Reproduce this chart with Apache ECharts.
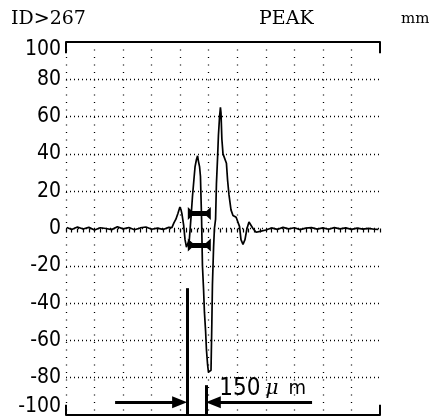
<!DOCTYPE html>
<html>
<head>
<meta charset="utf-8">
<script src="https://cdn.jsdelivr.net/npm/echarts@6/dist/echarts.min.js"></script>
<style>
html,body{margin:0;padding:0;background:#fff;}
#c{width:429px;height:417px;}
</style>
</head>
<body>
<div id="c"></div>
<script>
// ---- data ----
const headerLeft = 'ID>267';
const headerMid = 'PEAK';
const headerUnit = 'mm';
const yTickValues = [-100, -80, -60, -40, -20, 0, 20, 40, 60, 80, 100];
const yTickLabels = ['-100', '-80', '-60', '-40', '-20', '0', '20', '40', '60', '80', '100'];
const scaleText = ['150', 'μ', 'm'];

// waveform (x in grid divisions*10, y in axis units)
const waveX = [0.3, 2, 4, 6, 8, 10, 12, 14, 16, 18, 20, 22, 24, 26, 28, 30, 32, 34, 36,
  36.4, 37.1, 37.8, 38.5, 39.2, 39.9, 40.3, 40.6, 41.2, 41.7, 42.2, 42.7, 43.2, 43.8, 44.3,
  44.8, 45.2, 45.7, 46.1, 46.4, 46.8, 47.1, 47.5, 47.8, 48.2, 48.5, 48.9, 49.2, 49.6, 49.9,
  50.4, 50.8, 51.1, 51.3, 51.7, 52.0, 52.4, 52.7, 53.1, 53.4, 53.8, 54.1, 54.3, 54.6, 55.0,
  55.7, 56.2, 56.6, 57.1, 57.8, 58.5, 59.6, 60.3, 60.8, 61.3, 62.0, 62.7, 63.4, 64.1, 64.8,
  65.5, 66.6, 68.0,
  70, 72, 74, 76, 78, 80, 82, 84, 86, 88, 90, 92, 94, 96, 98, 100, 102, 104, 106, 108, 109.4];
const waveY = [0.5, -0.5, 0.8, -0.3, 0.6, -0.8, 0.4, 0, -0.6, 0.9, -0.2, 0.5, -0.7, 0.3, 0.8, -0.4, 0.2, -0.5, 0.6,
  1, 0.5, 3, 5, 8, 11.5, 10, 8, 2, -6, -10, -11, -6, 6, 17,
  26, 33, 37, 39, 36, 33, 28, 5, -20, -33, -45, -55, -65, -73, -77,
  -78, -76, -50, -30, -10, 0, 5, 24, 38, 50, 60, 65, 62, 48, 40,
  39, 35, 26, 18, 10, 7, 6, 5.5, 1, -6, -8.5, -6, 0, 3.5, 3,
  0, -2, -1.5,
  -0.8, 0.3, -0.5, 0.6, -0.2, 0.4, -0.6, 0.2, 0.5, -0.3, 0.3, -0.4, 0.5, -0.2, 0.3, -0.5, 0.2, -0.3, 0.1, -0.4, -0.5];

// cursor markers (x range, y levels) and width annotation
const cursorFrom = 43.9, cursorTo = 49.5;
const cursorLevels = [8, -8.8];
const gateLeftX = 42.4, gateRightX = 49.0;
const gateLeftTop = -32, gateRightTop = -84;
const arrowY = -93.2;
const arrowLeftStart = 17.2, arrowRightEnd = 86.2;

const waveData = waveX.map((x, i) => [x, waveY[i]]);

const INK = '#000';
const NARROW = '"DejaVu Sans Condensed", "Liberation Sans Narrow", sans-serif';
const SERIF = '"DejaVu Serif", "Liberation Serif", serif';
const chart = echarts.init(document.getElementById('c'), null, {renderer: 'canvas'});

const tipPath = 'path://M0,0 L10,0 L5,10 Z';

const markLines = [];
cursorLevels.forEach(lv => {
  markLines.push([
    {coord: [cursorFrom, lv], symbol: tipPath, symbolSize: [13, 7], lineStyle: {width: 5}},
    {coord: [cursorTo, lv], symbol: tipPath, symbolSize: [13, 7]}
  ]);
});
// gate vertical lines
markLines.push([{coord: [gateLeftX, gateLeftTop], symbol: 'none', lineStyle: {width: 3}}, {coord: [gateLeftX, -100], symbol: 'none'}]);
markLines.push([{coord: [gateRightX, gateRightTop], symbol: 'none', lineStyle: {width: 3}}, {coord: [gateRightX, -100], symbol: 'none'}]);
// arrows
markLines.push([
  {coord: [arrowLeftStart, arrowY], symbol: 'none', lineStyle: {width: 3}},
  {coord: [gateLeftX - 2.6, arrowY], symbol: 'triangle', symbolSize: [12, 15]}
]);
markLines.push([
  {coord: [gateRightX + 2.6, arrowY], symbol: 'triangle', symbolSize: [12, 15], lineStyle: {width: 3},
    label: {show: true, position: 'insideMiddleTop', distance: 2,
      formatter: '{a|' + scaleText[0] + '}{b|' + scaleText[1] + '}{c|' + scaleText[2] + '}',
      rich: {
        a: {fontFamily: NARROW, fontSize: 24, color: INK},
        b: {fontFamily: SERIF, fontStyle: 'italic', fontSize: 20, color: INK, padding: [0, 10, 0, 5]},
        c: {fontFamily: NARROW, fontSize: 20, color: INK}
      }}},
  {coord: [arrowRightEnd, arrowY], symbol: 'none'}
]);
// corner ticks
[[0, 100, 94], [0, -100, -94.5], [110, 100, 94], [110, -100, -94.5]].forEach(c => {
  markLines.push([{coord: [c[0], c[1]], symbol: 'none', lineStyle: {width: 2}}, {coord: [c[0], c[2]], symbol: 'none'}]);
});

const gridRect = {left: 66, right: 49, top: 42, bottom: 2};

const option = {
  animation: false,
  backgroundColor: '#fff',
  title: [
    {text: headerLeft, left: 11, top: 10, padding: 0, textStyle: {fontFamily: SERIF, fontSize: 19, fontWeight: 'normal', color: INK}},
    {text: headerMid, left: 259, top: 10, padding: 0, textStyle: {fontFamily: SERIF, fontSize: 19, fontWeight: 'normal', color: INK}},
    {text: headerUnit, left: 401, top: 12, padding: 0, textStyle: {fontFamily: SERIF, fontSize: 15, fontWeight: 'normal', color: INK}}
  ],
  grid: [
    Object.assign({}, gridRect),
    Object.assign({}, gridRect)
  ],
  xAxis: [
    {gridIndex: 0, type: 'value', min: 0, max: 110, interval: 10, position: 'bottom',
      axisLine: {show: true, onZero: false, lineStyle: {color: INK, width: 2}},
      axisTick: {show: false}, axisLabel: {show: false},
      splitLine: {show: true, showMaxLine: false, lineStyle: {color: INK, width: 1.3, type: [1, 6.5]}}},
    {gridIndex: 0, type: 'value', min: 0, max: 110, interval: 10, position: 'top',
      axisLine: {show: true, onZero: false, lineStyle: {color: INK, width: 2}},
      axisTick: {show: false}, axisLabel: {show: false}, splitLine: {show: false}},
    {gridIndex: 1, type: 'value', min: 0, max: 110, interval: 10, position: 'bottom',
      axisLine: {show: true, onZero: true, lineStyle: {color: INK, width: 1, opacity: 0}},
      axisTick: {show: true, inside: false, length: 4, lineStyle: {color: INK, width: 1.2}},
      minorTick: {show: true, splitNumber: 5, length: 4, lineStyle: {color: INK, width: 1.2}},
      axisLabel: {show: false}, splitLine: {show: false}}
  ],
  yAxis: [
    {gridIndex: 0, type: 'value', min: -100, max: 100, interval: 20,
      axisLine: {show: false}, axisTick: {show: false},
      axisLabel: {show: true, margin: 5, color: INK,
        formatter: function (v) {
          const i = yTickValues.indexOf(v);
          const s = i >= 0 ? yTickLabels[i] : String(v);
          if (v === 100) return '{t|' + s + '}';
          if (v === -100) return '{b|' + s + '}';
          return '{n|' + s + '}';
        },
        rich: {
          n: {fontFamily: NARROW, fontSize: 21, color: INK},
          t: {fontFamily: NARROW, fontSize: 21, color: INK, padding: [16, 0, 0, 0]},
          b: {fontFamily: NARROW, fontSize: 21, color: INK, padding: [0, 0, 17, 0]}
        }},
      splitLine: {show: true, showMinLine: false, showMaxLine: false, lineStyle: {color: INK, width: 1.3, type: [1, 3]}}},
    {gridIndex: 1, type: 'value', min: -100, max: 100, interval: 20,
      axisLine: {show: false}, axisTick: {show: false}, axisLabel: {show: false}, splitLine: {show: false}}
  ],
  series: [
    {type: 'line', xAxisIndex: 0, yAxisIndex: 0, data: waveData, showSymbol: false, symbol: 'none',
      lineStyle: {color: INK, width: 1.7}, z: 5},
    {type: 'line', xAxisIndex: 0, yAxisIndex: 0, data: [], symbol: 'none', z: 6,
      markLine: {silent: true, animation: false, precision: 3,
        lineStyle: {color: INK, type: 'solid', width: 3},
        itemStyle: {color: INK},
        label: {show: false},
        emphasis: {disabled: true},
        data: markLines}}
  ]
};
chart.setOption(option);
</script>
</body>
</html>
